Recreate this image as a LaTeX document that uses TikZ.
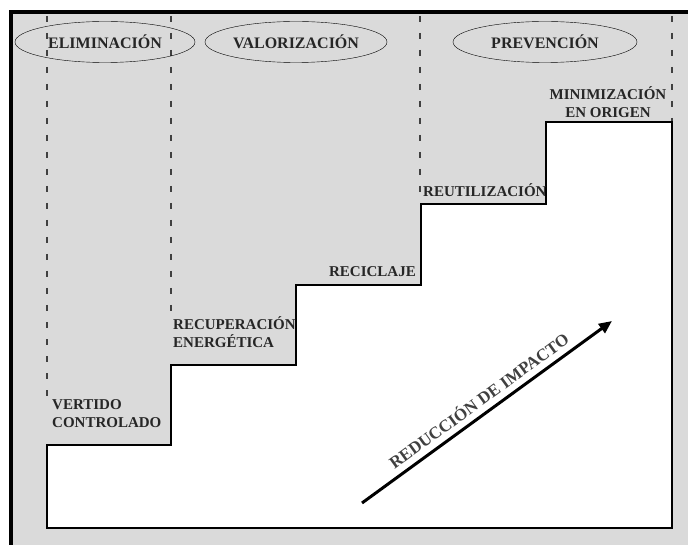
\documentclass[tikz,border=0pt]{standalone}
\usepackage{fontspec}
\setmainfont{Liberation Serif}
\usetikzlibrary{shapes.geometric,arrows.meta}
\definecolor{fondo}{RGB}{218,218,218}
\tikzset{
	etapa/.style={font=\bfseries\fontsize{15}{18}\selectfont, text=black!85, inner sep=0pt},
	grupo/.style={ellipse, draw, thin, minimum height=41pt, inner sep=0pt, font=\bfseries\fontsize{16}{18}\selectfont, text=black!85}
}
\begin{document}
\begin{tikzpicture}[x=1pt,y=-1pt]
				\useasboundingbox (0,0) rectangle (688,545);
				\fill[white] (0,0) rectangle (688,545);
				\fill[fondo] (11,12) rectangle (688,545);
				\draw[line width=4pt] (11,545) -- (11,12) -- (688,12);
				\foreach \x/\y in {47/405,171/315,420/195,672/122}
				\draw[black!75, line width=1.6pt, dash pattern=on 6pt off 11pt] (\x,16) -- (\x,\y);
				\draw[line width=2.5pt, fill=white] (47,528) -- (47,445) -- (171,445) -- (171,365) -- (296,365) -- (296,285) -- (421,285) -- (421,204) -- (546,204) -- (546,122) -- (672,122) -- (672,528) -- cycle;
				\node[grupo, minimum width=180pt] (eliminacion) at (105,42) {ELIMINACIÓN};
				\node[grupo, minimum width=182pt] (valorizacion) at (296,42) {VALORIZACIÓN};
				\node[grupo, minimum width=184pt] (prevencion) at (545,42) {PREVENCIÓN};
				\node[etapa, anchor=north west, align=left] (vertido) at (52,399) {VERTIDO\\CONTROLADO};
				\node[etapa, anchor=north west, align=left] (recuperacion) at (173,316) {RECUPERACIÓN\\ENERGÉTICA};
				\node[etapa, anchor=south east] (reciclaje) at (416,277) {RECICLAJE};
				\node[etapa, anchor=south west] (reutilizacion) at (423,197) {REUTILIZACIÓN};
				\node[etapa, anchor=south, align=center] (minimizacion) at (608,118) {MINIMIZACIÓN\\EN ORIGEN};
				\coordinate (inicio) at (362,503);
				\coordinate (fin) at (612,321);
				\draw[-{Triangle[length=13pt,width=11pt]}, line width=3pt] (inicio) -- (fin) node[midway, sloped, above=6pt, etapa, font=\bfseries\fontsize{17}{18}\selectfont, text=black!75] (impacto) {REDUCCIÓN DE IMPACTO};
			\end{tikzpicture}
\end{document}
